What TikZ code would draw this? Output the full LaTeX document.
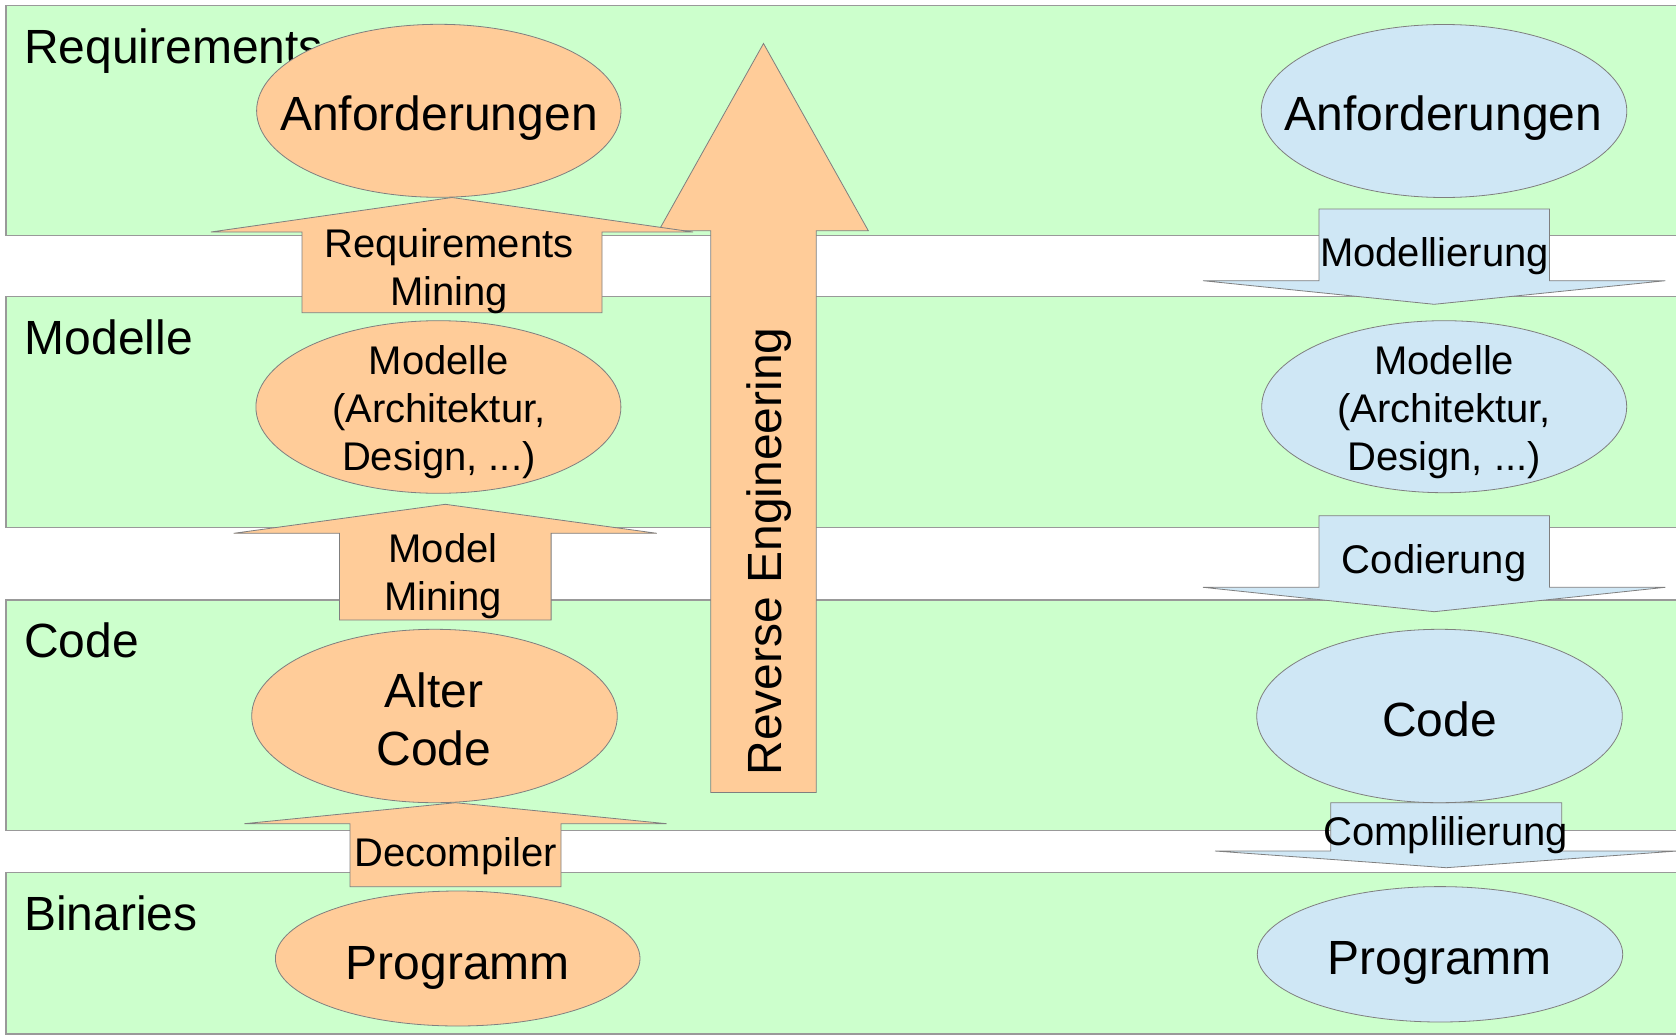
\documentclass[tikz,border=0pt]{standalone}
\usepackage{fontspec}
\setmainfont{Liberation Sans}
\usetikzlibrary{shapes.geometric}

\definecolor{bandfill}{HTML}{CCFFCC}
\definecolor{bandline}{HTML}{999999}
\definecolor{orangefill}{HTML}{FFCC99}
\definecolor{bluefill}{HTML}{CFE7F5}
\definecolor{shapeline}{HTML}{7F7F7F}

% block arrow: style, centre x, shaft half width, head half width,
% shaft end y, head base y, tip y
\newcommand{\drawblockarrow}[7]{%
  \path[#1] ({#2-#3},{#5}) -- ({#2-#3},{#6}) -- ({#2-#4},{#6}) -- ({#2},{#7})
    -- ({#2+#4},{#6}) -- ({#2+#3},{#6}) -- ({#2+#3},{#5}) -- cycle;}

\begin{document}
\begin{tikzpicture}[x=1pt,y=-1pt,
  band/.style={fill=bandfill, draw=bandline, line width=1.1pt},
  bandlabel/.style={anchor=base west, inner sep=0pt, font=\fontsize{48}{57}\selectfont},
  ell/.style={ellipse, draw=shapeline, line width=0.8pt, inner sep=0pt},
  orangeshape/.style={fill=orangefill, draw=shapeline, line width=0.8pt},
  blueshape/.style={fill=bluefill, draw=shapeline, line width=0.8pt},
  bigtext/.style={inner sep=0pt, align=center, font=\fontsize{48}{57.5}\selectfont},
  midtext/.style={inner sep=0pt, align=center, font=\fontsize{40}{48}\selectfont},
  modtext/.style={inner sep=0pt, align=center, font=\fontsize{40}{48}\selectfont}]

\useasboundingbox (0,0) rectangle (1676,1036);
\clip (0,0) rectangle (1676,1036);

% layer bands
\draw[band] (6,5.7) rectangle (1700,235.7);
\draw[band] (6,296.7) rectangle (1700,527.3);
\draw[band] (6,600) rectangle (1700,830.5);
\draw[band] (6,872.5) rectangle (1700,1034);

\node[bandlabel] (lblreq) at (24,63) {Requirements};
\node[bandlabel] (lblmod) at (24.5,354) {Modelle};
\node[bandlabel] (lblcode) at (24,657.3) {Code};
\node[bandlabel] (lblbin) at (24,930) {Binaries};

% reverse engineering arrow
\drawblockarrow{orangeshape}{763.5}{52.7}{104.8}{792.4}{230.7}{43.5}

% upward steps on the left
\drawblockarrow{orangeshape}{452}{150}{241}{312.7}{232}{197.5}
\drawblockarrow{orangeshape}{445.3}{105.8}{211.6}{620}{533.3}{504.3}
\drawblockarrow{orangeshape}{455.5}{105.5}{211.2}{886.7}{823.7}{802.7}

% downward steps on the right
\drawblockarrow{blueshape}{1434.2}{115.2}{231.2}{209}{280.7}{304.3}
\drawblockarrow{blueshape}{1434.2}{115.2}{231.2}{515.7}{587.3}{611.7}
\drawblockarrow{blueshape}{1446.2}{115.5}{231.2}{802.7}{851}{867.7}

% artefacts, left column
\node[ell, fill=orangefill, minimum width=364.4, minimum height=173] (lanf) at (438.8,110.8) {};
\node[ell, fill=orangefill, minimum width=365, minimum height=172.6] (lmod) at (438.4,407) {};
\node[ell, fill=orangefill, minimum width=365.6, minimum height=173.4] (lcode) at (434.5,716) {};
\node[ell, fill=orangefill, minimum width=364.6, minimum height=135] (lprog) at (457.7,958.5) {};

% artefacts, right column
\node[ell, fill=bluefill, minimum width=365.6, minimum height=173] (ranf) at (1444,111) {};
\node[ell, fill=bluefill, minimum width=365, minimum height=172] (rmod) at (1444.2,406.7) {};
\node[ell, fill=bluefill, minimum width=365.6, minimum height=173.4] (rcode) at (1439.5,716) {};
\node[ell, fill=bluefill, minimum width=365.4, minimum height=135.4] (rprog) at (1440,954.3) {};

% artefact texts
\node[bigtext, anchor=base] (tlanf) at (439,130) {Anforderungen};
\node[modtext] (tlmod) at (438.8,412.4) {Modelle\\(Architektur,\\Design, ...)};
\node[bigtext] (tlcode) at (434,719.5) {Alter\\Code};
\node[bigtext, anchor=base] (tlprog) at (457.7,979) {Programm};

\node[bigtext, anchor=base] (tranf) at (1443.5,130) {Anforderungen};
\node[modtext] (trmod) at (1444.2,412.2) {Modelle\\(Architektur,\\Design, ...)};
\node[bigtext, anchor=base] (trcode) at (1439.5,736.5) {Code};
\node[bigtext, anchor=base] (trprog) at (1439.7,974.3) {Programm};

% step labels
\node[midtext] (trm) at (449,271.2) {Requirements\\Mining};
\node[midtext] (tmm) at (443,575.8) {Model\\Mining};
\node[midtext, anchor=base] (tdc) at (455.5,866) {Decompiler};
\node[midtext, anchor=base] (tml) at (1434.5,266.7) {Modellierung};
\node[midtext, anchor=base] (tcd) at (1434.2,573.3) {Codierung};
\node[midtext, anchor=base] (tcp) at (1445.7,845) {Complilierung};
\node[bigtext, anchor=base, rotate=90] (tre) at (781,551.5) {Reverse Engineering};

\end{tikzpicture}
\end{document}
